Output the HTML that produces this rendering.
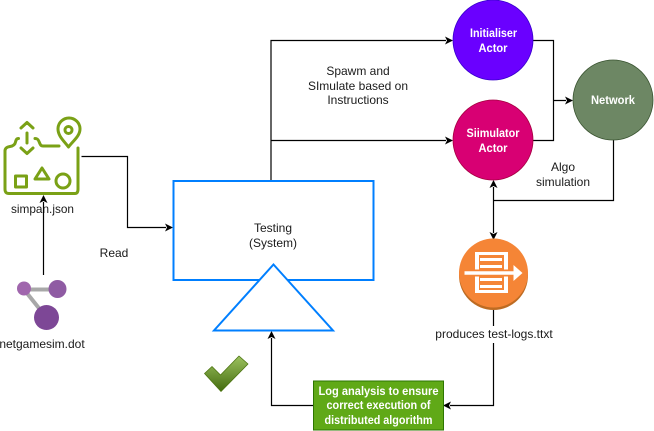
<!DOCTYPE html>
<html><head><meta charset="utf-8"><style>
html,body{margin:0;padding:0;background:#fff}
svg{display:block}
text{font-family:"Liberation Sans",Arial,sans-serif;font-size:12px;fill:#1a1a1a;text-anchor:middle}
.w{fill:#fff;font-weight:bold;font-size:12px}
.l{fill:none;stroke:#000;stroke-width:1.2}
.g{fill:none;stroke:#7aa116;stroke-width:3;stroke-linecap:round;stroke-linejoin:round}
</style></head><body>
<svg width="654" height="431" viewBox="0 0 654 431" xmlns="http://www.w3.org/2000/svg">
<!-- connectors -->
<path class="l" d="M81.500 156.500H127.500V227.500H166"/><path d="M173 227.500l-8-4 2 4-2 4z"/>
<path class="l" d="M271 181V40.500H446"/><path d="M453 40.500l-8-4 2 4-2 4z"/>
<path class="l" d="M271 140.500H446"/><path d="M453 140.500l-8-4 2 4-2 4z"/>
<path class="l" d="M533 40.500H553.500V140.500H533M553.500 100.500H566"/><path d="M573 100.500l-8-4 2 4-2 4z"/>
<path class="l" d="M613.500 140V200.500H493.500"/>
<path class="l" d="M493.500 187V233"/><path d="M493.500 180l-4 8 4-2 4 2z"/><path d="M493.500 240l-4-8 4 2 4-2z"/>
<path class="l" d="M493.500 310V405.500H450"/><path d="M443 405.500l8-4-2 4 2 4z"/>
<path class="l" d="M313 405.500H271.500V338"/><path d="M271.500 331l-4 8 4-2 4 2z"/>

<!-- actors -->
<circle cx="493" cy="40" r="40" fill="#6a00ff" stroke="#3700cc" stroke-width=".8"/>
<text class="w" x="493.500" y="37" textLength="47" lengthAdjust="spacingAndGlyphs">Initialiser</text><text class="w" x="493" y="52" textLength="29" lengthAdjust="spacingAndGlyphs">Actor</text>
<circle cx="493" cy="140" r="40" fill="#d80073" stroke="#a50040" stroke-width=".8"/>
<text class="w" x="493" y="137" textLength="53" lengthAdjust="spacingAndGlyphs">Siimulator</text><text class="w" x="493" y="152" textLength="29" lengthAdjust="spacingAndGlyphs">Actor</text>
<circle cx="613" cy="100" r="40" fill="#6d8764" stroke="#3a5431" stroke-width=".8"/>
<text class="w" x="613" y="104" textLength="44" lengthAdjust="spacingAndGlyphs">Network</text>

<!-- testing -->
<rect x="173.500" y="181" width="200" height="99" fill="#fff" stroke="#007fff" stroke-width="2"/>
<text x="273" y="232">Testing</text><text x="273" y="247">(System)</text>
<path d="M273.500 264.500L333 330.500H214z" fill="#fff" stroke="#007fff" stroke-width="2"/>

<!-- labels -->
<text x="358" y="75">Spawm and</text><text x="358" y="90">SImulate based on</text><text x="358" y="104">Instructions</text>
<text x="563" y="171">Algo</text><text x="563" y="186">simulation</text>
<text x="114" y="257">Read</text>

<!-- simpan icon -->
<path class="g" d="M59 146H43C40.500 146 40 144 39 141.500C38 139 37 138.500 35 138.500M18.500 138.500C16.500 138.500 16 140 15.500 142C15 145 13 146 10 146.500C7 147 5 148 5 151V189C5 192 6 193.500 9 193.500H75C77 193.500 78 192 78 189V148"/>
<path class="g" d="M27 133V143M21 128L27 122.500L33 128M21 148L27 153.500L33 148" stroke-width="2.600"/>
<path class="g" d="M68.500 147C64 141 58 136 58 129A10.500 10.500 0 0 1 80 129C80 136 73 141 68.500 147Z"/>
<circle class="g" cx="68.500" cy="130" r="3.500" stroke-width="2.600"/>
<rect class="g" x="15.500" y="176" width="11" height="11"/>
<path class="g" d="M42 168L49 179H35z"/>
<circle class="g" cx="63" cy="181" r="7"/>
<text x="42.500" y="213" textLength="63" lengthAdjust="spacingAndGlyphs">simpan.json</text>
<path class="l" d="M43.500 275V202"/><path d="M43.500 195l-4 8 4-2 4 2z"/>

<!-- graph icon -->
<path d="M24 289.500H57M24 289.500L46 317" fill="none" stroke="#a8a8a8" stroke-width="4"/>
<circle cx="24" cy="288.500" r="7" fill="#a066ad"/>
<circle cx="57.500" cy="289" r="9" fill="#8f5ba3"/>
<circle cx="46.500" cy="317.500" r="12.500" fill="#7d4796"/>
<text x="42" y="348">netgamesim.dot</text>

<!-- orange icon -->
<circle cx="493.500" cy="275.500" r="34.500" fill="#bd6b22"/>
<circle cx="493.500" cy="273" r="34.500" fill="#f58536"/>
<rect x="475" y="252" width="33" height="41" fill="#fff"/>
<rect x="479" y="255" width="25" height="35" fill="#f58536"/>
<path d="M480 259.500H502M480 266.500H502M480 279.500H502M480 286.500H502" stroke="#fff" stroke-width="3" fill="none"/>
<rect x="474" y="269.500" width="35" height="7" fill="#f58536"/>
<path d="M464.500 273H515" stroke="#fff" stroke-width="3.600" fill="none"/>
<path d="M513.500 265L522.500 273L513.500 281z" fill="#fff"/>
<rect x="433" y="326" width="122" height="17" fill="#fff"/>
<text x="494" y="338">produces test-logs.ttxt</text>

<!-- check -->
<defs><linearGradient id="c" x1="0" y1="0" x2="0" y2="1"><stop offset="0" stop-color="#9cc25f"/><stop offset="1" stop-color="#436b0f"/></linearGradient></defs>
<path d="M204.500 373.500L212 366.500L220.500 375L239 356L248 364L221 391.500z" fill="url(#c)" stroke="#4c7510" stroke-width=".8" stroke-linejoin="round"/>

<!-- log box -->
<rect x="313.500" y="381" width="130" height="49" fill="#60a917" stroke="#2d7600"/>
<text class="w" x="378.500" y="395" textLength="120" lengthAdjust="spacingAndGlyphs">Log analysis to ensure</text>
<text class="w" x="378.500" y="409" textLength="104" lengthAdjust="spacingAndGlyphs">correct execution of</text>
<text class="w" x="378.500" y="424" textLength="108" lengthAdjust="spacingAndGlyphs">distributed algorithm</text>
</svg>
</body></html>
